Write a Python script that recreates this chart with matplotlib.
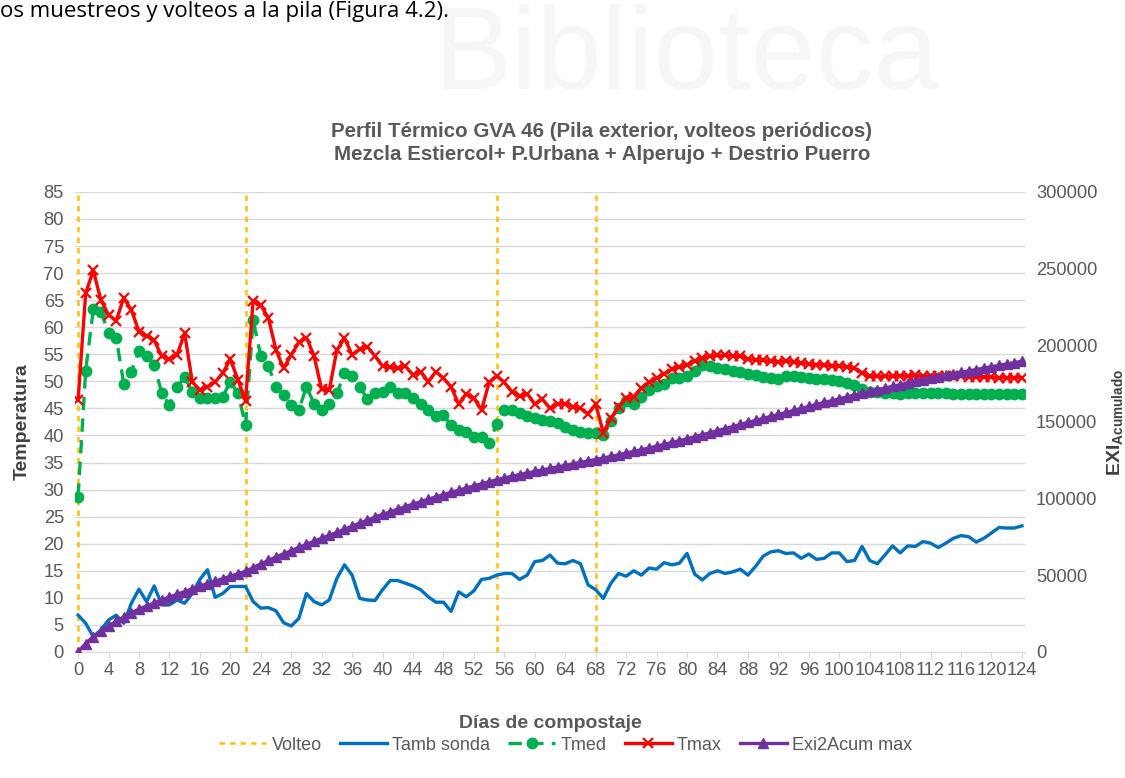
import numpy as np
import matplotlib
matplotlib.use('Agg')
from matplotlib import pyplot as plt

plt.rcParams['font.family'] = ['Liberation Sans', 'DejaVu Sans']
plt.rcParams['mathtext.fontset'] = 'custom'
plt.rcParams['mathtext.rm'] = 'Liberation Sans'
plt.rcParams['mathtext.bf'] = 'Liberation Sans:bold'

# data (one value per day, day 0..124)
tamb = [6.8, 5.3, 2.8, 4.1, 5.9, 6.8, 5.3, 9.0, 11.6, 9.3,
        12.2, 8.7, 8.7, 9.6, 9.0, 10.8, 13.4, 15.2, 10.1, 10.8,
        12.1, 12.1, 12.1, 9.3, 8.1, 8.2, 7.6, 5.4, 4.8, 6.2,
        10.8, 9.3, 8.7, 9.6, 13.6, 16.1, 14.2, 9.9, 9.6, 9.5,
        11.5, 13.2, 13.2, 12.7, 12.2, 11.5, 10.2, 9.2, 9.2, 7.5,
        11.1, 10.2, 11.3, 13.4, 13.6, 14.2, 14.5, 14.5, 13.4, 14.2,
        16.7, 16.9, 17.9, 16.4, 16.3, 16.9, 16.3, 12.4, 11.5, 9.9,
        12.7, 14.5, 14.0, 15.0, 14.2, 15.5, 15.3, 16.5, 16.1, 16.4,
        18.2, 14.4, 13.3, 14.5, 15.0, 14.5, 14.8, 15.3, 14.2, 15.8,
        17.7, 18.5, 18.7, 18.2, 18.3, 17.3, 18.1, 17.1, 17.3, 18.3,
        18.3, 16.7, 16.9, 19.5, 16.9, 16.3, 17.9, 19.6, 18.3, 19.6,
        19.5, 20.4, 20.1, 19.3, 20.1, 21.0, 21.5, 21.3, 20.3, 21.0,
        22.0, 23.0, 22.9, 22.9, 23.3]

tmed = [28.7, 52.0, 63.3, 62.9, 58.9, 58.1, 49.6, 51.8, 55.7, 54.7,
        53.0, 47.8, 45.6, 49.0, 50.8, 48.1, 46.9, 46.9, 46.9, 47.2,
        49.9, 47.8, 41.9, 61.3, 54.7, 52.8, 49.0, 47.5, 45.6, 44.7,
        49.0, 45.9, 44.8, 45.8, 47.8, 51.5, 50.9, 49.0, 46.7, 47.8,
        48.0, 48.9, 47.9, 47.8, 46.9, 45.8, 44.8, 43.6, 43.8, 41.9,
        41.0, 40.7, 39.8, 39.7, 38.7, 42.1, 44.7, 44.8, 44.2, 43.6,
        43.2, 42.9, 42.6, 42.3, 41.6, 41.1, 40.7, 40.5, 40.4, 40.1,
        42.6, 45.0, 46.3, 45.9, 47.2, 48.4, 49.2, 49.6, 50.6, 50.6,
        51.0, 52.0, 53.0, 52.8, 52.5, 52.2, 52.0, 51.7, 51.4, 51.1,
        50.8, 50.6, 50.5, 51.0, 51.0, 50.8, 50.6, 50.5, 50.4, 50.2,
        50.0, 49.7, 49.3, 48.5, 48.1, 48.0, 47.9, 47.8, 47.7, 47.8,
        47.8, 47.8, 47.9, 47.8, 47.8, 47.7, 47.7, 47.7, 47.7, 47.7,
        47.7, 47.6, 47.6, 47.6, 47.6]

tmax = [46.5, 66.3, 70.5, 65.0, 62.3, 61.2, 65.4, 63.2, 59.2, 58.4,
        57.6, 54.6, 54.1, 54.9, 58.9, 49.9, 48.4, 49.0, 49.9, 51.5,
        54.1, 50.3, 46.4, 64.9, 64.1, 61.7, 55.8, 52.4, 54.9, 57.2,
        58.1, 54.7, 48.5, 48.4, 55.8, 58.0, 54.9, 55.9, 56.4, 54.7,
        52.8, 52.7, 52.4, 52.8, 51.2, 51.8, 49.9, 51.8, 50.6, 49.0,
        45.8, 47.7, 46.9, 44.7, 49.8, 51.0, 49.8, 48.1, 47.3, 47.7,
        45.8, 46.7, 45.0, 45.8, 45.9, 45.3, 45.0, 44.0, 45.8, 40.5,
        43.2, 45.3, 46.9, 47.2, 48.7, 49.8, 50.6, 51.4, 52.2, 52.7,
        53.0, 53.8, 54.3, 54.6, 54.8, 54.8, 54.7, 54.6, 54.2, 54.0,
        53.9, 53.7, 53.6, 53.8, 53.6, 53.4, 53.2, 53.1, 53.0, 52.9,
        52.8, 52.7, 52.4, 51.6, 51.0, 50.9, 50.9, 51.0, 51.0, 51.0,
        51.1, 51.0, 51.0, 51.0, 50.9, 50.9, 50.9, 50.8, 50.8, 50.8,
        50.8, 50.7, 50.7, 50.7, 50.7]

exi_acum = [0, 5500, 10000, 13500, 17000, 20000, 22800, 25500, 28000, 30000,
            32000, 34000, 35800, 37600, 39400, 41200, 42900, 44600, 46200, 47800,
            49400, 51000, 52600, 55000, 57400, 59700, 61900, 64000, 66100, 68200,
            70200, 72200, 74200, 76100, 78000, 80000, 82000, 84000, 86000, 87900,
            89700, 91400, 93100, 94800, 96400, 98000, 99600, 101100, 102600, 104100,
            105500, 106900, 108300, 109700, 111000, 112300, 113500, 114600, 115700, 116700,
            117700, 118700, 119700, 120700, 121700, 122700, 123700, 124600, 125500, 126500,
            127500, 128600, 129700, 130800, 131900, 133000, 134200, 135400, 136600, 137800,
            139000, 140300, 141600, 142950, 144300, 145650, 147000, 148350, 149700, 151000,
            152300, 153600, 154900, 156200, 157500, 158800, 160100, 161400, 162700, 163900,
            165100, 166300, 167500, 168700, 169900, 171000, 172100, 173200, 174300, 175400,
            176500, 177500, 178500, 179500, 180500, 181500, 182400, 183300, 184200, 185100,
            186000, 186900, 187800, 188700, 189600]

volteo_days = [0, 22, 55, 68]
days = np.arange(len(tmax))

gray = '#595959'
grid_c = '#D9D9D9'

fig = plt.figure(figsize=(11.25, 7.78), dpi=100)
ax = fig.add_axes([0.0667, 0.162, 0.8444, 0.5913])
ax2 = ax.twinx()

fig.text(0.61, 1 - 58 / 778, 'Biblioteca', fontsize=84, color='#f6f6f6',
         ha='center', va='center', zorder=0)
fig.text(0.0, 1 - 1 / 778, 'os muestreos y volteos a la pila (Figura 4.2).',
         fontsize=16, family='Open Sans', color='black', va='top', ha='left')

h_volteo = ax.vlines(volteo_days, 0, 85, colors='#FFC000', linewidth=1.8,
                     linestyles=(0, (2.2, 2)), zorder=2)
h_tamb, = ax.plot(days, tamb, color='#0070C0', lw=2.4, zorder=3)
h_tmed, = ax.plot(days, tmed, color='#00B050', lw=2.4, ls=(0, (4, 2.5)),
                  marker='o', ms=7.5, zorder=4)
h_tmax, = ax.plot(days, tmax, color='#FF0000', lw=2.4, marker='x', ms=7,
                  mew=1.6, zorder=5)
h_exi, = ax2.plot(days, exi_acum, color='#7030A0', lw=2.4, marker='^', ms=7)

ax.set_xlim(-0.4, 124.4)
ax.set_ylim(0, 85)
ax2.set_ylim(0, 300000)
ax.set_yticks(np.arange(0, 86, 5))
ax2.set_yticks(np.arange(0, 300001, 50000))
ax.set_xticks(np.arange(0, 125, 4))

ax.grid(axis='y', color=grid_c, lw=1)
ax.set_axisbelow(True)
for a in (ax, ax2):
    for s in a.spines.values():
        s.set_visible(False)
ax.spines['bottom'].set_visible(True)
ax.spines['bottom'].set_color(grid_c)

ax.tick_params(axis='x', colors=grid_c, labelcolor=gray, labelsize=13.2,
               length=4, pad=3)
ax.tick_params(axis='y', length=0, labelcolor=gray, labelsize=13.2, pad=8)
ax2.tick_params(axis='y', length=0, labelcolor=gray, labelsize=13.2, pad=8)

ax.set_xlabel('Días de compostaje', fontsize=14, fontweight='bold',
              color=gray, labelpad=26)
ax.set_ylabel('Temperatura', fontsize=14, fontweight='bold', color='#404040',
              labelpad=9)
ax2.set_ylabel(r'$\mathbf{EXI}_{\mathbf{Acumulado}}$', fontsize=14,
               color='#404040', labelpad=6)

fig.text(0.535, 1 - 143 / 778,
         'Perfil Térmico GVA 46 (Pila exterior, volteos periódicos)\n'
         'Mezcla Estiercol+ P.Urbana + Alperujo + Destrio Puerro',
         ha='center', va='center', fontsize=14.8, fontweight='bold',
         color=gray, linespacing=1.25)

handles = [h_volteo, h_tamb, h_tmed, h_tmax, h_exi]
labels = ['Volteo', 'Tamb sonda', 'Tmed', 'Tmax', 'Exi2Acum max']
leg = fig.legend(handles, labels, loc='center', ncol=5, frameon=False,
                 bbox_to_anchor=(0.503, 1 - 745 / 778), fontsize=13,
                 handlelength=2.6, columnspacing=1.0, handletextpad=0.3)
for t in leg.get_texts():
    t.set_color(gray)

plt.savefig('out.png', dpi=100)
